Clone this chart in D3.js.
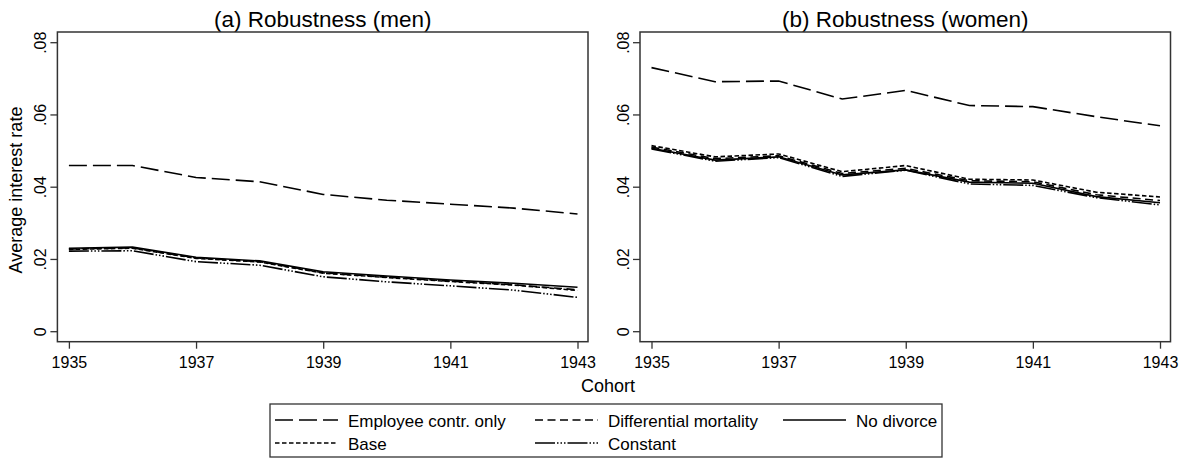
<!DOCTYPE html>
<html>
<head>
<meta charset="utf-8">
<script src="https://cdn.jsdelivr.net/npm/d3@7"></script>
<style>
  html, body { margin: 0; padding: 0; background: #fff; }
  svg { display: block; font-family: "Liberation Sans", Arial, Helvetica, sans-serif; }
</style>
</head>
<body>
<svg id="chart" width="1181" height="460"></svg>
<script>
// cohorts on the x axis
const cohorts = [1935, 1936, 1937, 1938, 1939, 1940, 1941, 1942, 1943];
const xTicks = [1935, 1937, 1939, 1941, 1943];
const yTicks = [0, 0.02, 0.04, 0.06, 0.08];
const yTickLabels = ['0', '.02', '.04', '.06', '.08'];

const seriesNames = ['Employee contr. only', 'Differential mortality', 'No divorce', 'Base', 'Constant'];

// men
const menEmployee = [0.0460, 0.0460, 0.0427, 0.0415, 0.0380, 0.0364, 0.0353, 0.0342, 0.0326];
const menDiffMort = [0.0229, 0.0232, 0.0204, 0.0194, 0.0163, 0.0151, 0.0140, 0.0130, 0.0116];
const menNoDivorce = [0.0231, 0.0234, 0.0206, 0.0196, 0.0166, 0.0154, 0.0143, 0.0134, 0.0123];
const menBase = [0.0228, 0.0231, 0.0203, 0.0193, 0.0162, 0.0150, 0.0139, 0.0129, 0.0114];
const menConstant = [0.0223, 0.0224, 0.0194, 0.0184, 0.0152, 0.0138, 0.0127, 0.0115, 0.0095];

// women
const womenEmployee = [0.0731, 0.0692, 0.0694, 0.0644, 0.0668, 0.0626, 0.0623, 0.0595, 0.0570];
const womenDiffMort = [0.0511, 0.0479, 0.0487, 0.0438, 0.0452, 0.0418, 0.0415, 0.0379, 0.0363];
const womenNoDivorce = [0.0508, 0.0475, 0.0484, 0.0434, 0.0448, 0.0414, 0.0411, 0.0374, 0.0357];
const womenBase = [0.0515, 0.0484, 0.0492, 0.0443, 0.0460, 0.0422, 0.0420, 0.0386, 0.0373];
const womenConstant = [0.0506, 0.0472, 0.0482, 0.0430, 0.0447, 0.0409, 0.0405, 0.0371, 0.0351];

const dashes = ['18,6', '8,4.5', null, '4.5,2.5', '20,2,1.5,2,1.5,2,1.5,2'];
const font = '"Liberation Sans", Arial, Helvetica, sans-serif';

const svg = d3.select('#chart');

const panels = [
  { title: '(a) Robustness (men)', left: 57.4, right: 588, data: [menEmployee, menDiffMort, menNoDivorce, menBase, menConstant] },
  { title: '(b) Robustness (women)', left: 640, right: 1170.5, data: [womenEmployee, womenDiffMort, womenNoDivorce, womenBase, womenConstant] }
];
const frameTop = 32, frameBottom = 341.7;

panels.forEach((p, pi) => {
  const x = d3.scaleLinear().domain([1935, 1943]).range([p.left + 11.5, p.right - 10.5]);
  const y = d3.scaleLinear().domain([0, 0.08]).range([331.7, 42.7]);
  const g = svg.append('g');

  // title
  g.append('text')
    .attr('x', (p.left + p.right) / 2).attr('y', 27)
    .attr('text-anchor', 'middle')
    .style('font-size', '22.5px')
    .text(p.title);

  // lines
  const line = d3.line().x((d, i) => x(cohorts[i])).y(d => y(d));
  p.data.forEach((s, i) => {
    g.append('path')
      .attr('d', line(s))
      .attr('fill', 'none')
      .attr('stroke', '#000')
      .attr('stroke-width', 1.6)
      .attr('stroke-dasharray', dashes[i]);
  });

  // frame
  g.append('rect')
    .attr('x', p.left).attr('y', frameTop)
    .attr('width', p.right - p.left).attr('height', frameBottom - frameTop)
    .attr('fill', 'none').attr('stroke', '#333').attr('stroke-width', 1.5);

  // x axis
  const xAxis = g.append('g').attr('transform', `translate(0,${frameBottom})`)
    .call(d3.axisBottom(x).tickValues(xTicks).tickSize(7).tickFormat(d3.format('d')));
  xAxis.select('.domain').remove();
  xAxis.selectAll('line').attr('stroke', '#333').attr('stroke-width', 1.3);
  xAxis.selectAll('text').attr('y', 26.5).attr('dy', 0)
    .attr('fill', '#000').style('font-size', '16px').style('font-family', font);

  // y axis
  const yAxis = g.append('g').attr('transform', `translate(${p.left},0)`)
    .call(d3.axisLeft(y).tickValues(yTicks).tickSize(7).tickFormat((d, i) => yTickLabels[i]));
  yAxis.select('.domain').remove();
  yAxis.selectAll('line').attr('stroke', '#333').attr('stroke-width', 1.3);
  yAxis.selectAll('text')
    .attr('x', 0).attr('dy', 0)
    .attr('transform', d => `translate(-11.5,${y(d)}) rotate(-90)`)
    .attr('text-anchor', 'middle')
    .attr('fill', '#000').style('font-size', '16px').style('font-family', font);
  yAxis.selectAll('.tick').attr('transform', null);
  yAxis.selectAll('.tick line').attr('transform', d => `translate(0,${y(d)})`);

  if (pi === 0) {
    g.append('text')
      .attr('transform', `translate(21.5,190) rotate(-90)`)
      .attr('text-anchor', 'middle')
      .style('font-size', '18px')
      .text('Average interest rate');
  }
});

// x title
svg.append('text')
  .attr('x', 608).attr('y', 392)
  .attr('text-anchor', 'middle')
  .style('font-size', '18px')
  .text('Cohort');

// legend
const legend = svg.append('g');
legend.append('rect')
  .attr('x', 270).attr('y', 404).attr('width', 672).attr('height', 53)
  .attr('fill', '#fff').attr('stroke', '#333').attr('stroke-width', 1.3);

const legendCols = [275, 535, 783];
const legendRows = [420, 443];
seriesNames.forEach((name, i) => {
  const col = i % 3, row = Math.floor(i / 3);
  const lx = legendCols[col], ly = legendRows[row];
  legend.append('line')
    .attr('x1', lx).attr('x2', lx + 63)
    .attr('y1', ly).attr('y2', ly)
    .attr('stroke', '#000').attr('stroke-width', 1.6)
    .attr('stroke-dasharray', dashes[i]);
  legend.append('text')
    .attr('x', lx + 73).attr('y', ly + 6.5)
    .style('font-size', '17px')
    .text(name);
});
</script>
</body>
</html>
